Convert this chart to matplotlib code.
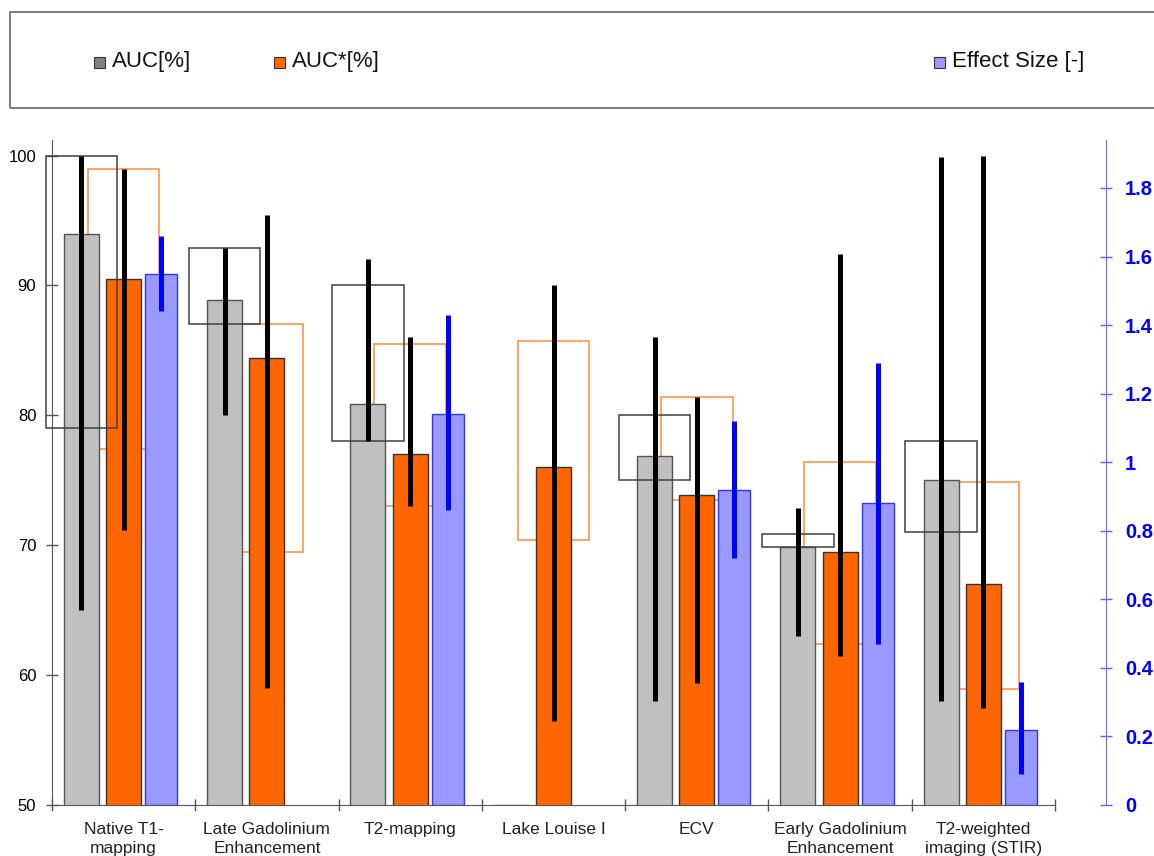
import numpy as np
import matplotlib
matplotlib.use("Agg")
import matplotlib.pyplot as plt
import matplotlib.transforms as mtransforms
from matplotlib.patches import Rectangle

plt.rcParams['font.family'] = ['Liberation Sans', 'DejaVu Sans']

nan = np.nan
categories = ["Native T1-\nmapping", "Late Gadolinium\nEnhancement", "T2-mapping",
              "Lake Louise I", "ECV", "Early Gadolinium\nEnhancement",
              "T2-weighted\nimaging (STIR)"]

auc = [94.0, 88.9, 80.9, 50.0, 76.9, 69.9, 75.0]
auc_lo = [65.0, 80.0, 78.0, nan, 58.0, 63.0, 58.0]
auc_hi = [100.0, 92.9, 92.0, nan, 86.0, 72.9, 99.9]
auc_box_lo = [79.0, 87.0, 78.0, nan, 75.0, 69.9, 71.0]
auc_box_hi = [100.0, 92.9, 90.0, nan, 80.0, 70.9, 78.0]

auc_star = [90.5, 84.4, 77.0, 76.0, 73.9, 69.5, 67.0]
auc_star_lo = [71.2, 59.0, 73.0, 56.5, 59.4, 61.5, 57.5]
auc_star_hi = [99.0, 95.4, 86.0, 90.0, 81.4, 92.4, 100.0]
auc_star_box_lo = [77.4, 69.5, 73.0, 70.4, 73.5, 62.4, 58.9]
auc_star_box_hi = [99.0, 87.0, 85.5, 85.75, 81.4, 76.4, 74.9]

effect = [1.55, nan, 1.14, nan, 0.92, 0.88, 0.22]
effect_lo = [1.44, nan, 0.86, nan, 0.72, 0.47, 0.09]
effect_hi = [1.66, nan, 1.43, nan, 1.12, 1.29, 0.36]

right_ticks = [0, 0.2, 0.4, 0.6, 0.8, 1, 1.2, 1.4, 1.6, 1.8]
right_labels = ['0', '0.2', '0.4', '0.6', '0.8', '1', '1.2', '1.4', '1.6', '1.8']

x = np.arange(len(categories))
off_grey, off_orange, off_blue = -0.295, 0.0, 0.262
w = 0.244
box_w = 0.5
tick_len = 8.6  # points (about 12 px)

fig = plt.figure(figsize=(11.54, 8.56), dpi=100)
ax = fig.add_axes([52/1154, 51/856, 1003/1154, 665/856])
ax2 = ax.twinx()

# AUC* boxes behind bars
for xi, lo, hi in zip(x, auc_star_box_lo, auc_star_box_hi):
    if np.isnan(lo):
        continue
    ax.add_patch(Rectangle((xi + off_orange - box_w/2, lo), box_w, hi - lo, fill=False,
                           edgecolor='#ff8a3d', lw=1.1, zorder=1, clip_on=False))

ax.bar(x + off_grey, auc, w, color='#c0c0c0', edgecolor='#555555', lw=1.0, zorder=2)
ax.bar(x + off_orange, auc_star, w, color='#ff6600', edgecolor='#333333', lw=1.0, zorder=2)

# AUC boxes on top of bars
for xi, lo, hi in zip(x, auc_box_lo, auc_box_hi):
    if np.isnan(lo):
        continue
    ax.add_patch(Rectangle((xi + off_grey - box_w/2, lo), box_w, hi - lo, fill=False,
                           edgecolor='#404040', lw=1.1, zorder=3, clip_on=False))

ax.vlines(x + off_grey, auc_lo, auc_hi, color='black', lw=3.6, zorder=4)
ax.vlines(x + off_orange, auc_star_lo, auc_star_hi, color='black', lw=3.6, zorder=4)

ax2.bar(x + off_blue, effect, 0.223, color='#9999ff', edgecolor='#3333ff', lw=1.0, zorder=2)
ax2.vlines(x + off_blue, effect_lo, effect_hi, color='#0000ff', lw=3.6, zorder=3)

ax.set_xlim(-0.5, len(categories) - 0.5)
ax.set_ylim(50, 101.2)
ax2.set_ylim(0, 1.94)

ax.set_yticks([50, 60, 70, 80, 90, 100])
ax.tick_params(axis='y', direction='inout', length=tick_len, width=1, color='#555555',
               labelsize=12, pad=7)
ax.set_xticks(x)
ax.tick_params(axis='x', which='major', length=0, pad=12)
ax.set_xticklabels(categories, fontsize=12.5, color='#222222', linespacing=1.4)
ax.set_xticks(np.arange(-0.5, len(categories)), minor=True)
ax.tick_params(axis='x', which='minor', direction='inout', length=tick_len, width=1, color='#555555')

# right axis: tick marks from the axis, bold blue labels as texts
ax2.set_yticks(right_ticks)
ax2.tick_params(axis='y', direction='inout', length=tick_len, width=1, color='#6060ff',
                labelright=False)
trans = mtransforms.blended_transform_factory(ax2.transAxes, ax2.transData)
for v, lab in zip(right_ticks, right_labels):
    ax2.text((1125 - 52) / 1003, v, lab, transform=trans, ha='left', va='center_baseline',
             fontsize=14.5, fontweight='bold', color='#0000ff', clip_on=False)

for s in ['top', 'right']:
    ax.spines[s].set_visible(False)
for s in ['top', 'left', 'bottom']:
    ax2.spines[s].set_visible(False)
ax.spines['left'].set_color('#555555')
ax.spines['bottom'].set_color('#555555')
ax2.spines['right'].set_position(('outward', 51 * 72 / 100))
ax2.spines['right'].set_color('#6a6aff')

# legend frame across the top
fig.add_artist(Rectangle((10/1154, (856-108)/856), 1.2, 96/856, transform=fig.transFigure,
                         fill=False, edgecolor='#666666', lw=1.2))
legend_items = [("AUC[%]", '#808080', 94), ("AUC*[%]", '#ff6600', 274), ("Effect Size [-]", '#9999ff', 934)]
ly = (856 - 62) / 856
for label, col, px in legend_items:
    fig.add_artist(Rectangle((px/1154, ly - 5.5/856), 11/1154, 11/856, transform=fig.transFigure,
                             facecolor=col, edgecolor='#333333', lw=0.8))
    fig.text((px + 18)/1154, ly, label, fontsize=16, va='center', ha='left', color='#111111')

fig.savefig("out.png", dpi=100)
